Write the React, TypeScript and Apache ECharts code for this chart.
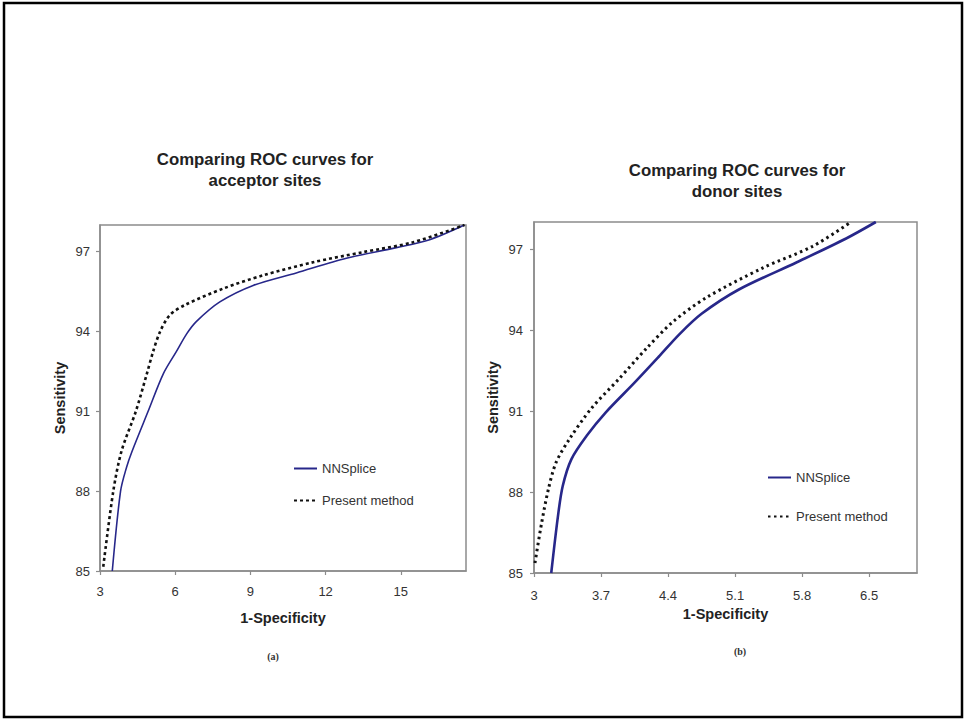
import React, { useEffect, useRef } from "react";
import * as echarts from "echarts";

// ---- Data ----
const acceptorTitle = "Comparing ROC curves for\nacceptor sites";
const donorTitle = "Comparing ROC curves for\ndonor sites";
const seriesNames = ["NNSplice", "Present method"];

// (a) acceptor sites: [1-Specificity, Sensitivity]
const accNNSplice: number[][] = [
  [3.49, 85.0], [3.82, 88.0], [4.06, 88.9], [4.28, 89.5], [4.92, 91.0],
  [5.52, 92.4], [6.05, 93.25], [6.45, 93.9], [6.84, 94.37], [7.78, 95.11],
  [9.11, 95.73], [10.83, 96.2], [12.83, 96.75], [14.82, 97.15], [16.15, 97.45],
  [17.54, 98.0],
];
const accPresent: number[][] = [
  [3.13, 85.16], [3.53, 88.0], [3.86, 89.51], [4.43, 91.0], [4.86, 92.38],
  [5.12, 93.25], [5.4, 94.0], [5.79, 94.62], [6.4, 95.0], [7.91, 95.61],
  [9.51, 96.11], [11.5, 96.6], [13.49, 96.98], [15.48, 97.35], [17.54, 98.0],
];

// (b) donor sites
const donNNSplice: number[][] = [
  [3.18, 85.0], [3.25, 87.1], [3.3, 88.22], [3.39, 89.21], [3.55, 90.08],
  [3.75, 90.95], [4.05, 92.05], [4.3, 93.0], [4.52, 93.85], [4.75, 94.6],
  [5.14, 95.5], [5.74, 96.5], [6.26, 97.39], [6.57, 98.0],
];
const donPresent: number[][] = [
  [3.01, 85.37], [3.08, 86.86], [3.15, 88.1], [3.23, 89.09], [3.37, 89.96],
  [3.6, 91.1], [3.89, 92.2], [4.17, 93.3], [4.45, 94.3], [4.8, 95.2],
  [5.39, 96.3], [5.91, 97.1], [6.31, 98.0],
];

// Axis ticks
const accXTicks = [3, 6, 9, 12, 15];
const donXTicks = [3, 3.7, 4.4, 5.1, 5.8, 6.5];
const yTicks = [85, 88, 91, 94, 97];

const FONT = "Arial, 'Liberation Sans', Helvetica, sans-serif";
const AXIS_COLOR = "#8c8c8c";
const LABEL_COLOR = "#333333";
const BLUE = "#27278a";

export default function App() {
  const ref = useRef<HTMLDivElement>(null);

  useEffect(() => {
    if (!ref.current) return;
    const chart = echarts.init(ref.current, undefined, { renderer: "svg" });

    const xAxisBase = (gridIndex: number, min: number, max: number, ticks: number[], margin: number, nameGap: number) => ({
      type: "value" as const,
      gridIndex,
      min,
      max,
      name: "1-Specificity",
      nameLocation: "middle" as const,
      nameGap,
      nameTextStyle: { fontFamily: FONT, fontSize: 14.5, fontWeight: "bold" as const, color: "#222" },
      axisLine: { show: true, lineStyle: { color: AXIS_COLOR, width: 1.5 } },
      axisTick: { show: true, length: 4, customValues: ticks, lineStyle: { color: AXIS_COLOR, width: 1.2 } },
      axisLabel: { customValues: ticks, margin, fontFamily: FONT, fontSize: 13, color: LABEL_COLOR, showMinLabel: true, showMaxLabel: true },
      splitLine: { show: false },
    });

    const yAxisBase = (gridIndex: number, margin: number, nameGap: number) => ({
      type: "value" as const,
      gridIndex,
      min: 85,
      max: 98,
      name: "Sensitivity",
      nameLocation: "middle" as const,
      nameGap,
      nameTextStyle: { fontFamily: FONT, fontSize: 14.5, fontWeight: "bold" as const, color: "#222" },
      axisLine: { show: true, lineStyle: { color: AXIS_COLOR, width: 1.5 } },
      axisTick: { show: true, length: 4, customValues: yTicks, lineStyle: { color: AXIS_COLOR, width: 1.2 } },
      axisLabel: { customValues: yTicks, margin, fontFamily: FONT, fontSize: 13, color: LABEL_COLOR },
      splitLine: { show: false },
    });

    const legendCommon = {
      orient: "vertical" as const,
      itemHeight: 12,
      textStyle: { fontFamily: FONT, fontSize: 13, color: LABEL_COLOR },
      selectedMode: false,
      itemStyle: { opacity: 0, color: "transparent", borderWidth: 0 },
    };

    const option: any = {
      animation: false,
      backgroundColor: "#ffffff",
      grid: [
        { left: 100, top: 225, width: 366, height: 346, show: true, borderColor: AXIS_COLOR, borderWidth: 1.5, backgroundColor: "transparent" },
        { left: 534, top: 222, width: 383, height: 351, show: true, borderColor: AXIS_COLOR, borderWidth: 1.5, backgroundColor: "transparent" },
      ],
      xAxis: [
        xAxisBase(0, 3, 17.6, accXTicks, 14, 39),
        xAxisBase(1, 3, 7, donXTicks, 16, 33),
      ],
      yAxis: [yAxisBase(0, 10, 33), yAxisBase(1, 11, 34)],
      legend: [
        {
          ...legendCommon,
          data: seriesNames.map((n) => ({ name: n })),
          left: 288,
          top: 457,
          itemWidth: 23,
          itemGap: 19,
        },
        {
          ...legendCommon,
          data: seriesNames.map((n) => ({ name: n + " " })),
          left: 762,
          top: 466,
          itemWidth: 23,
          itemGap: 26,
        },
      ],
      series: [
        {
          name: seriesNames[0],
          type: "line",
          xAxisIndex: 0,
          yAxisIndex: 0,
          data: accNNSplice,
          showSymbol: false,
          symbol: "none",
          smooth: 0.3,
          lineStyle: { color: BLUE, width: 1.6 },
          itemStyle: { color: BLUE },
          clip: true,
        },
        {
          name: seriesNames[1],
          type: "line",
          xAxisIndex: 0,
          yAxisIndex: 0,
          data: accPresent,
          showSymbol: false,
          symbol: "none",
          smooth: 0.3,
          lineStyle: { color: "#111", width: 2.6, type: [3, 3] },
          itemStyle: { color: "#111" },
          clip: true,
        },
        {
          name: seriesNames[0] + " ",
          type: "line",
          xAxisIndex: 1,
          yAxisIndex: 1,
          data: donNNSplice,
          showSymbol: false,
          symbol: "none",
          smooth: 0.3,
          lineStyle: { color: BLUE, width: 2.6 },
          itemStyle: { color: BLUE },
          clip: true,
        },
        {
          name: seriesNames[1] + " ",
          type: "line",
          xAxisIndex: 1,
          yAxisIndex: 1,
          data: donPresent,
          showSymbol: false,
          symbol: "none",
          smooth: 0.3,
          lineStyle: { color: "#111", width: 3, type: [2.5, 3.5] },
          itemStyle: { color: "#111" },
          clip: true,
        },
      ],
      graphic: [
        {
          type: "rect",
          shape: { x: 4, y: 3, width: 958, height: 714 },
          style: { fill: "none", stroke: "#000", lineWidth: 2.5 },
          silent: true,
        },
        {
          type: "text",
          x: 265,
          y: 149,
          style: {
            text: acceptorTitle,
            textAlign: "center",
            fontFamily: FONT,
            fontSize: 16.8,
            fontWeight: "bold",
            lineHeight: 21,
            fill: "#222",
          },
        },
        {
          type: "text",
          x: 737,
          y: 160,
          style: {
            text: donorTitle,
            textAlign: "center",
            fontFamily: FONT,
            fontSize: 16.8,
            fontWeight: "bold",
            lineHeight: 21,
            fill: "#222",
          },
        },
        {
          type: "text",
          x: 273,
          y: 651,
          style: { text: "(a)", textAlign: "center", fontFamily: "'Liberation Serif', 'DejaVu Serif', serif", fontSize: 10, fontWeight: "bold", fill: "#333" },
        },
        {
          type: "text",
          x: 740,
          y: 646,
          style: { text: "(b)", textAlign: "center", fontFamily: "'Liberation Serif', 'DejaVu Serif', serif", fontSize: 10, fontWeight: "bold", fill: "#333" },
        },
      ],
    };

    chart.setOption(option);
    return () => chart.dispose();
  }, []);

  return (
    <div
      ref={ref}
      style={{ position: "fixed", left: 0, top: 0, width: 964, height: 721, background: "#fff" }}
    />
  );
}
